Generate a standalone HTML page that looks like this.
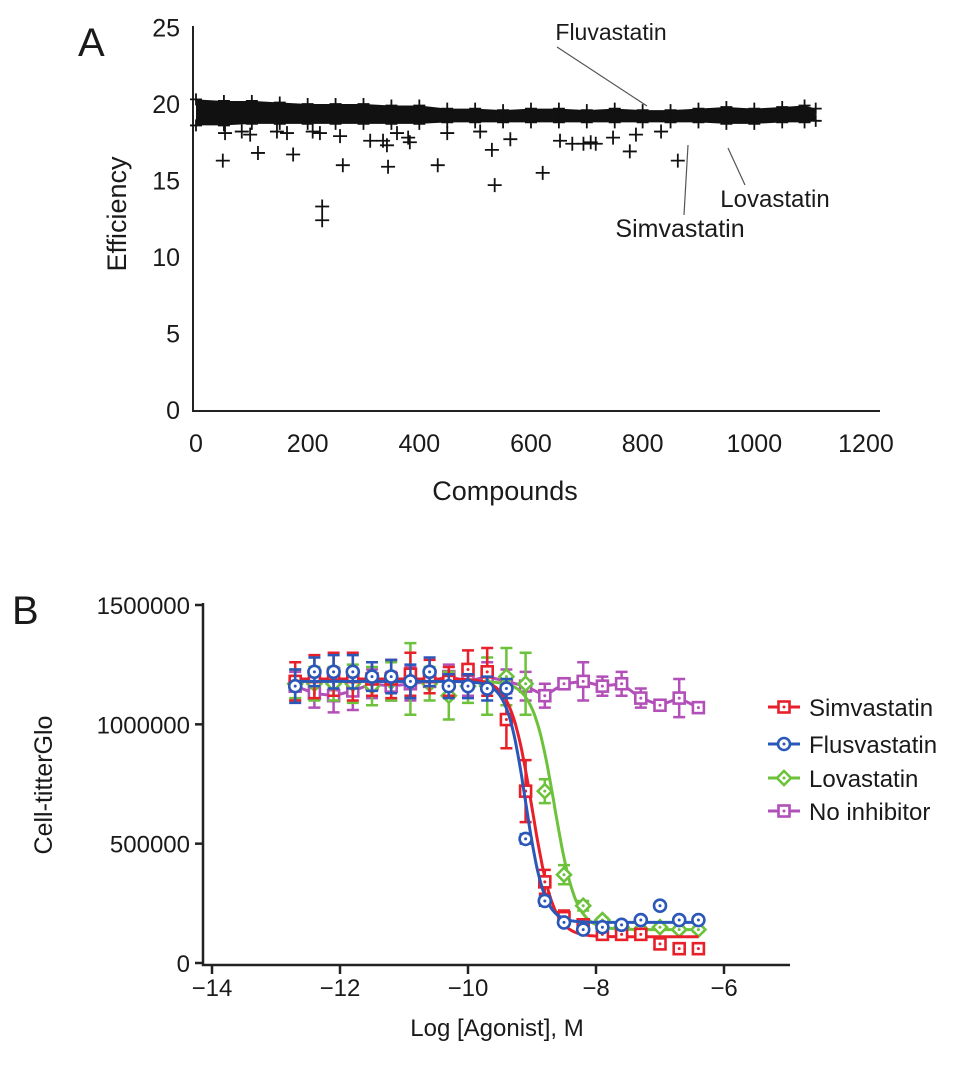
<!DOCTYPE html>
<html><head><meta charset="utf-8"><style>
body{margin:0;background:#fff;}
svg text{font-family:"Liberation Sans",Arial,sans-serif;fill:#1a1a1a;}
</style></head><body>
<svg id="fig" width="969" height="1072" viewBox="0 0 969 1072" xmlns="http://www.w3.org/2000/svg">
<g id="pa"></g>
<g id="pb"></g>
</svg>
<script>
// ===== Panel A data =====
const aXTicks=[0,200,400,600,800,1000,1200];
const aYTicks=[0,5,10,15,20,25];
const bandX=[0,50,100,150,200,250,300,350,400,450,500,550,600,650,700,750,800,850,900,950,1000,1050,1090,1110];
const bandHi=[20.3,20.2,20.2,20.1,20.0,20.0,20.0,19.9,19.9,19.7,19.7,19.6,19.7,19.7,19.6,19.7,19.6,19.6,19.7,19.8,19.7,19.8,19.9,19.7];
const bandLo=[18.6,18.6,18.7,18.7,18.7,18.7,18.7,18.7,18.7,18.8,18.8,18.8,18.8,18.8,18.8,18.8,18.8,18.8,18.8,18.7,18.7,18.8,18.8,18.9];
const outX=[48,111,174,263,226,226,344,342,335,433,530,535,621,777,863,52,82,97,145,163,209,222,258,312,360,383,380,450,509,563,652,674,694,707,716,747,788,833];
const outY=[16.3,16.8,16.7,16.0,13.3,12.4,15.9,17.3,17.6,16.0,17.0,14.7,15.5,16.9,16.3,18.1,18.2,18.0,18.2,18.1,18.2,18.1,17.9,17.6,18.1,17.5,17.8,18.1,18.2,17.7,17.6,17.4,17.4,17.5,17.4,17.8,18.0,18.2];
// ===== Panel B data =====
const bX=[-12.7,-12.4,-12.1,-11.8,-11.5,-11.2,-10.9,-10.6,-10.3,-10.0,-9.7,-9.4,-9.1,-8.8,-8.5,-8.2,-7.9,-7.6,-7.3,-7.0,-6.7,-6.4];
const simV=[1.18,1.20,1.21,1.20,1.19,1.19,1.21,1.20,1.18,1.23,1.22,1.02,0.72,0.34,0.19,0.16,0.12,0.12,0.12,0.08,0.06,0.06];
const simE=[0.08,0.09,0.09,0.10,0.07,0.08,0.09,0.07,0.06,0.08,0.10,0.12,0.13,0.05,0.03,0.02,0.02,0.02,0.02,0.01,0.01,0.01];
const fluV=[1.16,1.22,1.22,1.22,1.20,1.20,1.18,1.22,1.16,1.16,1.15,1.15,0.52,0.26,0.17,0.14,0.15,0.16,0.18,0.24,0.18,0.18];
const fluE=[0.07,0.06,0.07,0.07,0.06,0.07,0.07,0.06,0.05,0.05,0.05,0.04,0.02,0.02,0.01,0.01,0.01,0.01,0.01,0.01,0.01,0.01];
const lovV=[1.17,1.17,1.17,1.17,1.16,1.18,1.19,1.17,1.12,1.16,1.16,1.20,1.17,0.72,0.37,0.24,0.18,0.15,0.14,0.15,0.14,0.14];
const lovE=[0.06,0.07,0.07,0.08,0.08,0.08,0.15,0.07,0.10,0.07,0.12,0.12,0.13,0.05,0.04,0.02,0.01,0.01,0.01,0.01,0.01,0.01];
const noV=[1.16,1.13,1.12,1.14,1.17,1.16,1.17,1.18,1.20,1.18,1.20,1.18,1.16,1.12,1.17,1.18,1.16,1.17,1.11,1.08,1.11,1.07];
const noE=[0.06,0.06,0.07,0.08,0.06,0.06,0.07,0.05,0.05,0.06,0.06,0.05,0.06,0.05,0.02,0.08,0.04,0.05,0.04,0.02,0.08,0.02];
const bXTicks=[-14,-12,-10,-8,-6];
const bYTicks=[0,500000,1000000,1500000];
// fit params [top,bottom,logEC50,hill] in millions
const simFit=[1.19,0.11,-9.0,2.6];
const fluFit=[1.18,0.17,-9.1,3.0];
const lovFit=[1.18,0.14,-8.65,2.6];

const NS="http://www.w3.org/2000/svg";
function mk(p,t,a,txt){const e=document.createElementNS(NS,t);for(const k in a)e.setAttribute(k,a[k]);if(txt!==undefined)e.textContent=txt;p.appendChild(e);return e;}

// ----- Panel A -----
const pa=document.getElementById('pa');
const ax=v=>196+v*0.5583, ay=v=>410-v*15.3;
let t=mk(pa,'text',{x:78,y:56,'font-size':40},'A');


let l=mk(pa,'line',{x1:193,y1:26,x2:193,y2:412,stroke:'#222','stroke-width':2});


l=mk(pa,'line',{x1:192,y1:411,x2:880,y2:411,stroke:'#222','stroke-width':2});


aYTicks.forEach(v=>{const e=mk(pa,'text',{x:180,y:ay(v)+9,'font-size':25,'text-anchor':'end'},String(v));

});
aXTicks.forEach(v=>{const e=mk(pa,'text',{x:ax(v),y:452,'font-size':25,'text-anchor':'middle'},String(v));

});
t=mk(pa,'text',{x:505,y:500,'font-size':27,'text-anchor':'middle'},'Compounds');


t=mk(pa,'text',{x:0,y:0,'font-size':27,'text-anchor':'middle',transform:'translate(126,214) rotate(-90)'},'Efficiency');


// band
let pts=bandX.map((x,i)=>ax(x)+','+ay(bandHi[i])).join(' ')+' '+bandX.map((x,i)=>ax(x)+','+ay(bandLo[i])).reverse().join(' ');
let band=mk(pa,'polygon',{points:pts,fill:'#111'});


bandX.forEach((x,i)=>{[bandHi[i],bandLo[i]].forEach(v=>{const g=mk(pa,'path',{d:`M${ax(x)-6},${ay(v)}h12M${ax(x)},${ay(v)-6}v12`,stroke:'#111','stroke-width':1.8});

});});
outX.forEach((x,i)=>{const g=mk(pa,'path',{d:`M${ax(x)-7},${ay(outY[i])}h14M${ax(x)},${ay(outY[i])-7}v14`,stroke:'#111','stroke-width':1.8});

});
[['Fluvastatin',611,40,23,557,47,647,106],['Lovastatin',775,207,24,745,185,728,148],['Simvastatin',680,237,25,684,215,688,145]].forEach(d=>{
const ln=mk(pa,'line',{x1:d[4],y1:d[5],x2:d[6],y2:d[7],stroke:'#555','stroke-width':1.2});


const tx=mk(pa,'text',{x:d[1],y:d[2],'font-size':d[3],'text-anchor':'middle'},d[0]);

});

// ----- Panel B -----
const pb=document.getElementById('pb');
const bx=v=>212+(v+14)*64, by=v=>963-v/1500000*358, bym=v=>by(v*1e6);
t=mk(pb,'text',{x:12,y:624,'font-size':40},'B');


l=mk(pb,'line',{x1:203,y1:603,x2:203,y2:966,stroke:'#222','stroke-width':2.5});


l=mk(pb,'line',{x1:202,y1:965,x2:790,y2:965,stroke:'#222','stroke-width':2.5});


bYTicks.forEach(v=>{mk(pb,'line',{x1:195,y1:by(v),x2:203,y2:by(v),stroke:'#222','stroke-width':2.5});
const e=mk(pb,'text',{x:190,y:by(v)+9,'font-size':24,'text-anchor':'end'},String(v));

});
bXTicks.forEach(v=>{mk(pb,'line',{x1:bx(v),y1:965,x2:bx(v),y2:974,stroke:'#222','stroke-width':2.5});
const e=mk(pb,'text',{x:bx(v),y:996,'font-size':24,'text-anchor':'middle'},'\u2212'+Math.abs(v));

});
t=mk(pb,'text',{x:497,y:1036,'font-size':24,'text-anchor':'middle'},'Log [Agonist], M');


t=mk(pb,'text',{x:0,y:0,'font-size':25,'text-anchor':'middle',transform:'translate(52,785) rotate(-90)'},'Cell-titterGlo');


function fit(p,x){return p[1]+(p[0]-p[1])/(1+Math.pow(10,(x-p[2])*p[3]));}
const series=[
 {n:'no-inhibitor',c:'#b34fb8',v:noV,e:noE,f:null,m:'sq'},
 {n:'lovastatin',c:'#6cc23a',v:lovV,e:lovE,f:lovFit,m:'di'},
 {n:'simvastatin',c:'#e8202a',v:simV,e:simE,f:simFit,m:'sq'},
 {n:'flusvastatin',c:'#2a57b8',v:fluV,e:fluE,f:fluFit,m:'ci'}];
function marker(g,m,x,y,c){
 if(m==='sq')mk(g,'rect',{x:x-5.5,y:y-5.5,width:11,height:11,fill:'#fff',stroke:c,'stroke-width':2.6});
 else if(m==='ci')mk(g,'circle',{cx:x,cy:y,r:6,fill:'#fff',stroke:c,'stroke-width':2.6});
 else mk(g,'polygon',{points:`${x},${y-7} ${x+7},${y} ${x},${y+7} ${x-7},${y}`,fill:'#fff',stroke:c,'stroke-width':2.6});
 mk(g,'circle',{cx:x,cy:y,r:1.5,fill:c});
}
series.forEach(s=>{
 const g=mk(pb,'g',{});
 
 
 let d='';
 if(s.f){for(let x=bX[0];x<=bX[bX.length-1]+1e-9;x+=0.02){d+=(d?'L':'M')+bx(x).toFixed(1)+','+bym(fit(s.f,x)).toFixed(1);}}
 else{d=bX.map((x,i)=>(i?'L':'M')+bx(x)+','+bym(s.v[i])).join('');}
 const cv=mk(g,'path',{d:d,fill:'none',stroke:s.c,'stroke-width':3});
 
 
 bX.forEach((x,i)=>{const X=bx(x),y1=bym(s.v[i]+s.e[i]),y2=bym(s.v[i]-s.e[i]);
  const eb=mk(g,'path',{d:`M${X},${y1}V${y2}M${X-6},${y1}h12M${X-6},${y2}h12`,stroke:s.c,'stroke-width':2.5,fill:'none'});
  
  
  marker(g,s.m,X,bym(s.v[i]),s.c);});
});
[['Simvastatin','#e8202a','sq',707],['Flusvastatin','#2a57b8','ci',744],['Lovastatin','#6cc23a','di',778],['No inhibitor','#b34fb8','sq',811]].forEach(d=>{
 const g=mk(pb,'g',{});
 
 
 const y=d[3];
 mk(g,'line',{x1:768,y1:y,x2:800,y2:y,stroke:d[1],'stroke-width':3});
 marker(g,d[2],784,y,d[1]);
 mk(g,'text',{x:809,y:y+9,'font-size':24},d[0]);
});
</script>
</body></html>
